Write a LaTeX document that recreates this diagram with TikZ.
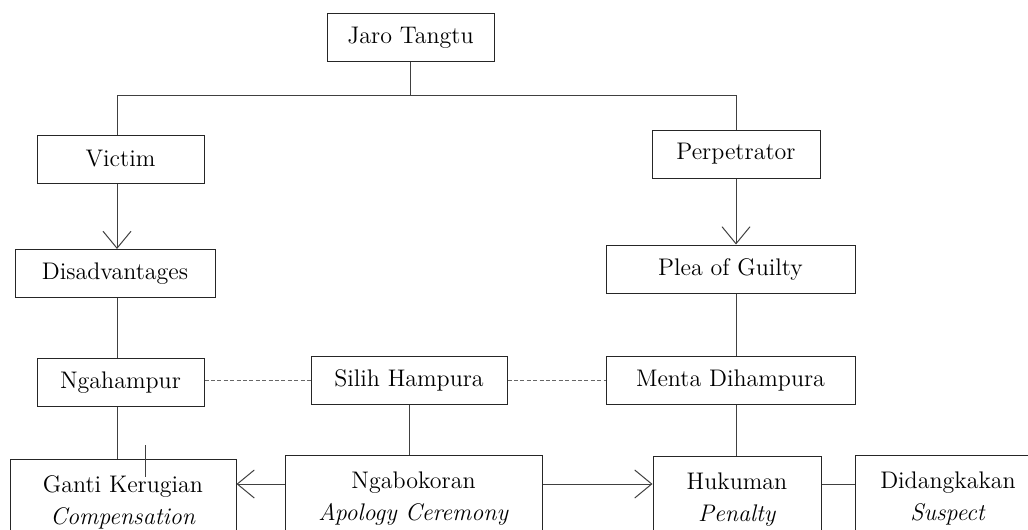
\documentclass[tikz,border=0pt]{standalone}
\usetikzlibrary{arrows.meta}

\tikzset{
  box/.style={draw=black!85, line width=0.5pt, minimum height=24pt, inner sep=2pt,
    font=\fontsize{12}{16}\selectfont},
  twobox/.style={box, anchor=north, minimum height=43pt, align=center},
  link/.style={draw=black!75, line width=0.5pt},
  arr/.style={link, -{Straight Barb[length=8.5pt,width=14pt]}},
  dotlink/.style={draw=black!60, line width=0.5pt, dash pattern=on 2pt off 1.2pt}
}

\begin{document}
\begin{tikzpicture}[x=0.5pt, y=-0.5pt]
    \useasboundingbox (0,0) rectangle (1028,530);

    % top level
    \node[box, minimum width=83.5pt] (jaro) at (410.5,37.5) {Jaro Tangtu};
    \coordinate (barL) at (117,95);
    \coordinate (barR) at (736,95);

    % the two parties
    \node[box, minimum width=83.5pt] (victim) at (120.5,159) {Victim};
    \node[box, minimum width=84pt] (perp) at (736,154) {Perpetrator};
    \node[box, minimum width=100pt] (disadv) at (115,273.5) {Disadvantages};
    \node[box, minimum width=124.5pt] (plea) at (730.5,269) {Plea of Guilty};

    % middle row
    \node[box, minimum width=83.5pt] (ngah) at (120.5,382.5) {Ngahampur};
    \node[box, minimum width=98pt] (silih) at (409,380) {Silih Hampura};
    \node[box, minimum width=124.5pt] (menta) at (730.5,380) {Menta Dihampura};

    % bottom row
    \node[twobox, minimum width=113pt] (ganti) at (123,459) {Ganti Kerugian\\\textit{Compensation}};
    \node[twobox, minimum width=128.5pt] (ngabok) at (413.5,455) {Ngabokoran\\\textit{Apology Ceremony}};
    \node[twobox, minimum width=84pt] (hukum) at (737,456) {Hukuman\\\textit{Penalty}};
    \node[twobox, minimum width=93pt] (didang) at (948,455) {Didangkakan\\\textit{Suspect}};
    \coordinate (mid) at (0,484);

    % connectors
    \draw[link] (jaro.south) -- (jaro.south |- barL);
    \draw[link] (barL) -- (barR);
    \draw[link] (barL) -- (barL |- victim.north);
    \draw[link] (barR) -- (barR |- perp.north);
    \draw[arr] (barL |- victim.south) -- (barL |- disadv.north);
    \draw[arr] (barR |- perp.south) -- (barR |- plea.north);
    \draw[link] (barL |- disadv.south) -- (barL |- ngah.north);
    \draw[link] (barR |- plea.south) -- (barR |- menta.north);
    \draw[link] (barL |- ngah.south) -- (barL |- ganti.north);
    \draw[link] (barR |- menta.south) -- (barR |- hukum.north);
    \draw[link] (silih.south) -- (silih.south |- ngabok.north);
    \draw[dotlink] (silih.west -| ngah.east) -- (silih.west);
    \draw[dotlink] (silih.east) -- (menta.west);
    \draw[arr] (ngabok.west |- mid) -- (ganti.east |- mid);
    \draw[arr] (ngabok.east |- mid) -- (hukum.west |- mid);
    \draw[link] (hukum.east |- mid) -- (didang.west |- mid);
    \draw[link] (145,445) -- (145,477);
\end{tikzpicture}
\end{document}
